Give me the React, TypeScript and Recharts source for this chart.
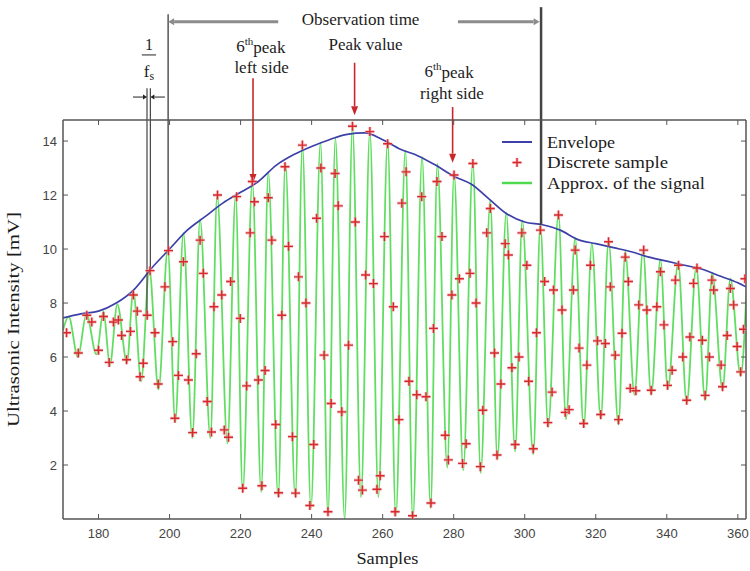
import React from 'react';
import {
  ComposedChart,
  Line,
  Scatter,
  XAxis,
  YAxis,
  ReferenceLine,
  ReferenceDot,
} from 'recharts';

const serif = '"Liberation Serif", "Times New Roman", serif';
const sans = '"Liberation Sans", Arial, sans-serif';
const frameColor = '#555';
const arrowRed = '#c8282c';
const ink = '#1c1c1c';

const xDomain: [number, number] = [170, 362.3];
const yDomain: [number, number] = [0, 14.78];
const xTicks = [180, 200, 220, 240, 260, 280, 300, 320, 340, 360];
const yTicks = [2, 4, 6, 8, 10, 12, 14];

// upper envelope of the echo
const envelopeX = [170, 175, 180, 185, 190, 195, 200, 205, 210, 215, 220, 225, 230, 235, 240, 245, 250, 255, 260, 265, 270, 275, 280, 285, 290, 295, 300, 305, 310, 315, 320, 325, 330, 335, 340, 345, 350, 355, 360, 362.3];
const envelopeY = [7.45, 7.6, 7.7, 8.0, 8.5, 9.3, 10.0, 10.7, 11.2, 11.7, 12.1, 12.5, 13.1, 13.5, 13.8, 14.05, 14.25, 14.3, 14.05, 13.7, 13.45, 13.1, 12.7, 12.4, 11.85, 11.3, 11.0, 10.9, 10.7, 10.35, 10.2, 10.05, 9.9, 9.7, 9.55, 9.4, 9.25, 9.0, 8.75, 8.6];

// crests and troughs of the reconstructed signal
const signalX = [170.0, 171.6, 174.2, 176.6, 179.4, 181.4, 183.2, 185.3, 188.0, 189.8, 192.0, 194.3, 196.9, 199.5, 201.6, 203.9, 206.4, 208.6, 211.5, 213.4, 216.3, 218.6, 220.6, 223.3, 225.8, 227.8, 230.6, 232.6, 235.4, 237.4, 239.8, 242.5, 244.6, 246.7, 249.3, 251.5, 253.9, 256.4, 258.8, 261.4, 263.7, 266.4, 268.5, 271.1, 273.5, 275.4, 278.2, 280.1, 282.7, 285.4, 287.6, 290.3, 292.3, 294.8, 297.3, 299.3, 302.4, 304.4, 306.6, 309.5, 311.6, 314.2, 316.6, 318.9, 321.4, 323.6, 326.4, 328.3, 330.9, 333.3, 335.6, 338.2, 340.3, 343.2, 345.6, 348.3, 350.8, 352.8, 355.7, 357.9, 360.8, 362.6];
const signalY = [7.0, 7.5, 6.0, 7.6, 6.1, 7.7, 5.7, 7.95, 5.8, 8.45, 5.1, 9.25, 4.8, 10.0, 3.6, 10.6, 3.0, 11.1, 3.0, 12.0, 2.8, 12.0, 1.0, 12.5, 1.0, 12.85, 0.8, 13.2, 0.8, 13.85, 0.4, 13.95, 0.2, 14.1, 0.0, 14.55, 0.8, 14.35, 0.8, 14.0, 0.1, 13.65, 0.0, 13.4, 0.4, 13.15, 1.9, 12.8, 1.8, 13.2, 1.7, 11.8, 2.2, 11.35, 2.5, 11.05, 2.4, 10.9, 3.4, 11.3, 3.7, 10.4, 3.4, 10.2, 3.7, 10.3, 3.5, 9.9, 4.6, 9.95, 4.6, 9.6, 4.8, 9.5, 4.3, 9.35, 4.4, 9.1, 4.8, 8.9, 5.3, 8.97];

// discrete samples
const sampleX = [171.0, 174.3, 176.7, 178.1, 180.0, 181.4, 183.0, 184.2, 185.6, 186.5, 187.9, 189.0, 189.8, 190.9, 191.7, 192.6, 193.7, 194.5, 195.9, 196.8, 198.7, 199.7, 200.9, 201.5, 202.5, 203.9, 205.3, 206.5, 207.5, 208.6, 209.5, 210.6, 211.8, 212.5, 213.5, 214.7, 215.4, 216.6, 217.2, 218.9, 219.9, 220.6, 221.7, 222.7, 223.3, 223.9, 225.0, 226.0, 226.9, 227.8, 228.8, 229.9, 230.7, 231.6, 232.5, 233.5, 234.6, 235.5, 236.3, 237.4, 238.4, 239.5, 240.6, 241.4, 242.6, 243.5, 244.6, 245.5, 246.6, 247.5, 248.5, 250.4, 251.5, 252.3, 253.2, 254.3, 255.2, 256.4, 257.4, 258.4, 259.3, 260.5, 261.4, 263.0, 263.5, 264.6, 265.4, 266.6, 267.4, 268.4, 269.6, 271.0, 272.2, 273.6, 274.3, 275.3, 276.7, 277.6, 278.5, 279.5, 280.1, 281.6, 282.5, 283.5, 284.6, 285.4, 286.3, 287.5, 288.2, 289.3, 290.3, 291.5, 292.2, 293.3, 294.5, 295.4, 296.4, 297.3, 298.4, 299.2, 300.6, 301.1, 302.4, 303.3, 304.4, 305.6, 306.5, 307.7, 308.1, 309.5, 310.5, 311.4, 312.5, 313.7, 314.2, 315.3, 316.6, 317.5, 318.5, 320.5, 321.4, 322.7, 323.6, 324.1, 325.5, 326.4, 327.4, 328.3, 329.2, 329.7, 331.3, 332.1, 333.5, 334.4, 335.6, 337.2, 338.2, 339.2, 340.2, 341.5, 342.4, 343.3, 344.5, 345.6, 346.5, 347.5, 348.5, 350.0, 350.8, 352.0, 352.7, 353.2, 355.3, 355.7, 357.0, 357.9, 358.8, 359.8, 360.8, 361.6, 362.0];
const sampleY = [6.9, 6.15, 7.55, 7.3, 6.25, 7.5, 5.8, 7.3, 7.37, 6.8, 5.9, 6.95, 8.3, 7.7, 5.27, 5.77, 7.55, 9.2, 6.9, 5.0, 8.6, 9.94, 6.57, 3.73, 5.32, 9.53, 5.15, 3.2, 6.12, 10.33, 9.1, 4.35, 3.22, 7.86, 12.0, 8.3, 3.3, 3.03, 8.8, 11.94, 7.43, 1.14, 4.93, 10.6, 12.5, 11.75, 5.15, 1.23, 5.5, 11.9, 10.33, 3.5, 0.97, 7.55, 13.05, 10.1, 3.05, 0.96, 8.97, 13.85, 8.0, 0.5, 2.76, 11.14, 13.0, 6.07, 0.27, 4.28, 12.8, 11.6, 3.97, 6.44, 14.55, 11.0, 1.44, 1.07, 9.04, 14.35, 8.72, 1.1, 1.6, 10.46, 13.9, 7.86, 0.27, 3.68, 11.7, 12.86, 5.1, 0.12, 4.6, 11.94, 4.53, 0.59, 7.06, 12.5, 10.46, 3.1, 2.19, 8.3, 12.74, 8.9, 2.06, 2.79, 9.1, 13.17, 8.0, 1.94, 4.03, 10.6, 11.5, 6.15, 2.37, 5.0, 10.2, 9.78, 5.6, 2.76, 6.0, 10.6, 9.4, 5.1, 2.6, 6.9, 10.7, 8.8, 3.57, 4.7, 8.48, 11.26, 7.74, 3.95, 4.05, 8.48, 9.96, 6.33, 3.54, 5.7, 9.4, 6.6, 3.87, 6.5, 10.27, 8.6, 6.07, 3.68, 6.88, 9.7, 8.8, 4.84, 4.75, 7.93, 9.96, 7.74, 4.77, 7.86, 9.16, 7.19, 4.95, 5.51, 8.85, 9.4, 6.0, 4.4, 6.74, 8.73, 9.3, 6.62, 4.58, 6.0, 8.85, 8.48, 5.7, 4.9, 6.8, 8.54, 7.93, 6.39, 5.45, 7.03, 8.9];

const legendLabels = ['Envelope', 'Discrete sample', 'Approx. of the signal'];
const legendWidths = [68, 121, 158];

const zip = (xs: number[], ys: number[]) => xs.map((x, i) => ({ x, y: ys[i] }));
const envelope = zip(envelopeX, envelopeY);
const signal = zip(signalX, signalY);
const samples = zip(sampleX, sampleY);

// observation window, sampling interval and annotated peaks (sample, level)
const obsStart = 199.6;
const obsEnd = 304.6;
const obsLevel = 18.42;
const fsLines = [
  { x: 193.65, y: 7.55 },
  { x: 194.6, y: 9.2 },
];
const leftPeak = { x: 223.5, y: 12.45 };
const topPeak = { x: 252.1, y: 14.96 };
const rightPeak = { x: 279.7, y: 13.2 };

const frameLine = { stroke: frameColor, strokeWidth: 1.5 };

function FrameTick(props: any) {
  const { x, y, payload, side } = props;
  const len = 5;
  if (side === 'left') {
    return (
      <g>
        <line x1={x + 6} x2={x + 6 + len} y1={y} y2={y} stroke={frameColor} />
        <text x={x} y={y} dy={4.5} textAnchor="end" fontFamily={sans} fontSize={13} fill="#444">
          {payload.value}
        </text>
      </g>
    );
  }
  if (side === 'right') {
    return <line x1={x - len} x2={x} y1={y} y2={y} stroke={frameColor} />;
  }
  if (side === 'top') {
    return <line x1={x} x2={x} y1={y} y2={y + len} stroke={frameColor} />;
  }
  return (
    <g>
      <line x1={x} x2={x} y1={y - 9} y2={y - 9 - len} stroke={frameColor} />
      <text x={x} y={y} dy={10} textAnchor="middle" fontFamily={sans} fontSize={13} fill="#444">
        {payload.value}
      </text>
    </g>
  );
}

function XTitle(props: any) {
  const { x, y, width } = props.viewBox;
  return (
    <text
      x={x + width * 0.475}
      y={y + 45}
      textAnchor="middle"
      fontFamily={serif}
      fontSize={16}
      textLength={62}
      lengthAdjust="spacingAndGlyphs"
      fill={ink}
    >
      Samples
    </text>
  );
}

function YTitle(props: any) {
  const { x, y, height } = props.viewBox;
  return (
    <text
      transform={`translate(${x + 19},${y + height / 2}) rotate(-90)`}
      textAnchor="middle"
      fontFamily={serif}
      fontSize={16}
      textLength={215}
      lengthAdjust="spacingAndGlyphs"
      fill={ink}
    >
      Ultrasonic Intensity [mV]
    </text>
  );
}

function PlusMark(props: any) {
  const { cx, cy } = props;
  if (cx == null || cy == null) return null;
  const a = 4.5;
  const d = `M${cx - a},${cy}H${cx + a}M${cx},${cy - a}V${cy + a}`;
  return (
    <g>
      <path d={d} stroke="#f2a0a4" strokeWidth={3.2} opacity={0.6} />
      <path d={d} stroke="#d8282c" strokeWidth={1.4} />
    </g>
  );
}

const arrow = (color: string, width: number, head: number, half: number) => (p: any) => {
  const { x1, y1, x2, y2 } = p;
  const dx = x2 - x1;
  const dy = y2 - y1;
  const len = Math.hypot(dx, dy) || 1;
  const ux = dx / len;
  const uy = dy / len;
  const bx = x2 - ux * head;
  const by = y2 - uy * head;
  const nx = -uy * half;
  const ny = ux * half;
  return (
    <g>
      <line x1={x1} y1={y1} x2={bx} y2={by} stroke={color} strokeWidth={width} />
      <polygon points={`${x2},${y2} ${bx + nx},${by + ny} ${bx - nx},${by - ny}`} fill={color} />
    </g>
  );
};

const note = (content: React.ReactNode, size = 17) => (p: any) => (
  <text
    x={p.cx}
    y={p.cy}
    textAnchor="middle"
    dominantBaseline="central"
    fontFamily={serif}
    fontSize={size}
    fill={ink}
  >
    {content}
  </text>
);

const nth = (
  <>
    6<tspan dy={-6} fontSize={11}>th</tspan>
    <tspan dy={6}>peak</tspan>
  </>
);

function LegendBox() {
  const icons = [
    <line key="e" x1={2} x2={32} y1={7} y2={7} stroke="#3c40a8" strokeWidth={2} />,
    <PlusMark key="s" cx={17} cy={7} />,
    <line key="g" x1={2} x2={32} y1={7} y2={7} stroke="#4fd94f" strokeWidth={2.5} />,
  ];
  return (
    <svg style={{ position: 'absolute', left: 500, top: 133 }} width={230} height={64}>
      {legendLabels.map((label, i) => (
        <g key={label} transform={`translate(0,${i * 20.5 + 2})`}>
          {icons[i]}
          <text
            x={47}
            y={7}
            dominantBaseline="central"
            fontFamily={serif}
            fontSize={16}
            textLength={legendWidths[i]}
            lengthAdjust="spacingAndGlyphs"
            fill={ink}
          >
            {label}
          </text>
        </g>
      ))}
    </svg>
  );
}

export default function App() {
  return (
    <div style={{ position: 'absolute', left: 0, top: 0, width: 750, height: 571, background: '#fff' }}>
      <ComposedChart width={750} height={571} margin={{ top: 119, right: 3, bottom: 0, left: 0 }}>
        <XAxis
          dataKey="x"
          type="number"
          domain={xDomain}
          allowDataOverflow
          ticks={xTicks}
          interval={0}
          height={52}
          tickSize={0}
          tickMargin={9}
          tickLine={false}
          axisLine={frameLine}
          tick={<FrameTick side="bottom" />}
          label={<XTitle />}
        />
        <XAxis
          xAxisId="top"
          orientation="top"
          dataKey="x"
          type="number"
          domain={xDomain}
          allowDataOverflow
          ticks={xTicks}
          interval={0}
          height={1}
          tickSize={0}
          tickMargin={0}
          tickLine={false}
          axisLine={frameLine}
          tick={<FrameTick side="top" />}
        />
        <YAxis
          type="number"
          domain={yDomain}
          allowDataOverflow
          ticks={yTicks}
          interval={0}
          width={63}
          tickSize={0}
          tickMargin={6}
          tickLine={false}
          axisLine={frameLine}
          tick={<FrameTick side="left" />}
          label={<YTitle />}
        />
        <YAxis
          yAxisId="right"
          orientation="right"
          type="number"
          domain={yDomain}
          allowDataOverflow
          ticks={yTicks}
          interval={0}
          width={1}
          tickSize={0}
          tickMargin={0}
          tickLine={false}
          axisLine={frameLine}
          tick={<FrameTick side="right" />}
        />

        <Line
          data={signal}
          dataKey="y"
          type="monotone"
          stroke="#45d845"
          strokeWidth={1.8}
          strokeOpacity={0.85}
          dot={false}
          activeDot={false}
          isAnimationActive={false}
        />
        <Line
          data={envelope}
          dataKey="y"
          type="monotone"
          stroke="#3c40a8"
          strokeWidth={1.7}
          dot={false}
          activeDot={false}
          isAnimationActive={false}
        />
        <Scatter data={samples} dataKey="y" shape={<PlusMark />} isAnimationActive={false} />

        {/* observation window */}
        <ReferenceLine
          segment={[{ x: obsStart, y: 18.7 }, { x: obsStart, y: 9.95 }]}
          ifOverflow="visible"
          stroke="#555"
          strokeWidth={1.5}
        />
        <ReferenceLine
          segment={[{ x: obsEnd, y: 18.96 }, { x: obsEnd, y: 10.9 }]}
          ifOverflow="visible"
          stroke="#444"
          strokeWidth={2.5}
        />
        <ReferenceLine
          segment={[{ x: 230.6, y: obsLevel }, { x: obsStart, y: obsLevel }]}
          ifOverflow="visible"
          shape={arrow('#8c8c8c', 3, 6, 3.5)}
        />
        <ReferenceLine
          segment={[{ x: 281.2, y: obsLevel }, { x: obsEnd - 0.4, y: obsLevel }]}
          ifOverflow="visible"
          shape={arrow('#8c8c8c', 3, 6, 3.5)}
        />
        <ReferenceDot x={253.8} y={18.5} ifOverflow="visible" shape={note('Observation time')} />

        {/* sampling interval 1/fs */}
        {fsLines.map((p) => (
          <ReferenceLine
            key={p.x}
            segment={[{ x: p.x, y: 15.96 }, { x: p.x, y: p.y }]}
            ifOverflow="visible"
            stroke="#444"
            strokeWidth={1.2}
          />
        ))}
        <ReferenceLine
          segment={[{ x: 189.7, y: 15.63 }, { x: fsLines[0].x, y: 15.63 }]}
          ifOverflow="visible"
          shape={arrow('#222', 1, 4, 2.5)}
        />
        <ReferenceLine
          segment={[{ x: 198.7, y: 15.63 }, { x: fsLines[1].x, y: 15.63 }]}
          ifOverflow="visible"
          shape={arrow('#222', 1, 4, 2.5)}
        />
        <ReferenceDot x={194.2} y={17.56} ifOverflow="visible" shape={note('1', 16)} />
        <ReferenceLine
          segment={[{ x: 192.2, y: 17.19 }, { x: 196.2, y: 17.19 }]}
          ifOverflow="visible"
          stroke="#222"
          strokeWidth={1}
        />
        <ReferenceDot
          x={194.2}
          y={16.56}
          ifOverflow="visible"
          shape={note(
            <>
              f<tspan dy={4} fontSize={12}>s</tspan>
            </>,
            17,
          )}
        />

        {/* annotated peaks */}
        <ReferenceDot x={225.7} y={17.5} ifOverflow="visible" shape={note(nth)} />
        <ReferenceDot x={225.9} y={16.74} ifOverflow="visible" shape={note('left side')} />
        <ReferenceLine
          segment={[{ x: leftPeak.x, y: 16.33 }, leftPeak]}
          ifOverflow="visible"
          shape={arrow(arrowRed, 1.6, 9, 3.5)}
        />
        <ReferenceDot x={255.2} y={17.56} ifOverflow="visible" shape={note('Peak value')} />
        <ReferenceLine
          segment={[{ x: topPeak.x, y: 16.9 }, topPeak]}
          ifOverflow="visible"
          shape={arrow(arrowRed, 1.6, 9, 3.5)}
        />
        <ReferenceDot x={278.7} y={16.56} ifOverflow="visible" shape={note(nth)} />
        <ReferenceDot x={279.5} y={15.78} ifOverflow="visible" shape={note('right side')} />
        <ReferenceLine
          segment={[{ x: rightPeak.x, y: 15.26 }, rightPeak]}
          ifOverflow="visible"
          shape={arrow(arrowRed, 1.6, 9, 3.5)}
        />
      </ComposedChart>
      <LegendBox />
    </div>
  );
}
